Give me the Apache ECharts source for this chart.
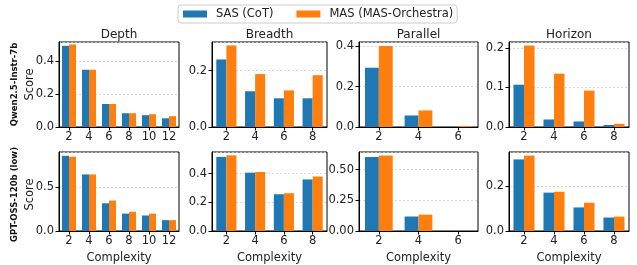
<!DOCTYPE html>
<html>
<head>
<meta charset="utf-8">
<script src="https://cdn.jsdelivr.net/npm/echarts@6/dist/echarts.min.js"></script>
<style>
  html, body { margin: 0; padding: 0; background: #fff; }
  #chart { width: 637px; height: 265px; }
</style>
</head>
<body>
<div id="chart"></div>
<script>
// categories (complexity levels) per task
const depthCats = ['2', '4', '6', '8', '10', '12'];
const breadthCats = ['2', '4', '6', '8'];
const parallelCats = ['2', '4', '6'];
const horizonCats = ['2', '4', '6', '8'];

const taskNames = ['Depth', 'Breadth', 'Parallel', 'Horizon'];
const modelNames = ['Qwen2.5-Instr-7b', 'GPT-OSS-120b (low)'];
const seriesNames = ['SAS (CoT)', 'MAS (MAS-Orchestra)'];

// Qwen2.5-Instr-7b
const qwenDepthSas = [0.495, 0.349, 0.14, 0.084, 0.072, 0.053];
const qwenDepthMas = [0.503, 0.349, 0.14, 0.084, 0.078, 0.066];
const qwenBreadthSas = [0.24, 0.127, 0.102, 0.102];
const qwenBreadthMas = [0.29, 0.188, 0.13, 0.184];
const qwenParallelSas = [0.293, 0.057, 0.001];
const qwenParallelMas = [0.40, 0.082, 0.005];
const qwenHorizonSas = [0.107, 0.019, 0.014, 0.005];
const qwenHorizonMas = [0.206, 0.135, 0.092, 0.008];

// GPT-OSS-120b (low)
const gptDepthSas = [0.852, 0.641, 0.314, 0.197, 0.176, 0.123];
const gptDepthMas = [0.842, 0.641, 0.345, 0.218, 0.197, 0.123];
const gptBreadthSas = [0.516, 0.406, 0.256, 0.359];
const gptBreadthMas = [0.527, 0.411, 0.263, 0.379];
const gptParallelSas = [0.602, 0.118, 0];
const gptParallelMas = [0.615, 0.133, 0];
const gptHorizonSas = [0.319, 0.171, 0.105, 0.06];
const gptHorizonMas = [0.336, 0.175, 0.126, 0.064];

// y axis ranges and tick steps, row by row
const yMax = [0.518, 0.302, 0.42, 0.215, 0.895, 0.55, 0.643, 0.352];
const yStep = [0.2, 0.2, 0.2, 0.1, 0.5, 0.2, 0.25, 0.2];
const yDecimals = [1, 1, 1, 1, 1, 1, 2, 1];

const BLUE = '#1f77b4';
const ORANGE = '#ff7f0e';
const FONT = 'DejaVu Sans';

const chart = echarts.init(document.getElementById('chart'), null, { renderer: 'canvas' });

// panel boxes: [left, width] per column, [top, height] per row
const cols = [[59, 120], [212, 115], [359, 119], [509, 120]];
const rows = [[42, 85], [152, 85]];

const panels = [
  { cats: depthCats, sas: qwenDepthSas, mas: qwenDepthMas },
  { cats: breadthCats, sas: qwenBreadthSas, mas: qwenBreadthMas },
  { cats: parallelCats, sas: qwenParallelSas, mas: qwenParallelMas },
  { cats: horizonCats, sas: qwenHorizonSas, mas: qwenHorizonMas },
  { cats: depthCats, sas: gptDepthSas, mas: gptDepthMas },
  { cats: breadthCats, sas: gptBreadthSas, mas: gptBreadthMas },
  { cats: parallelCats, sas: gptParallelSas, mas: gptParallelMas },
  { cats: horizonCats, sas: gptHorizonSas, mas: gptHorizonMas },
];

const grid = [];
const xAxis = [];
const yAxis = [];
const series = [];
const graphic = [];

panels.forEach((p, i) => {
  const r = Math.floor(i / 4);
  const c = i % 4;
  grid.push({
    left: cols[c][0],
    top: rows[r][0],
    width: cols[c][1],
    height: rows[r][1],
    show: true,
    borderColor: '#000',
    borderWidth: 1,
    containLabel: false,
  });
  xAxis.push({
    type: 'category',
    gridIndex: i,
    data: p.cats,
    axisLine: { show: true, lineStyle: { color: '#000', width: 1 } },
    axisTick: { show: true, alignWithLabel: true, length: 3.5, lineStyle: { color: '#000' } },
    axisLabel: { color: '#222', fontSize: 11.5, fontFamily: FONT, margin: 4, interval: 0 },
    splitLine: { show: false },
    name: r === 1 ? 'Complexity' : '',
    nameLocation: 'middle',
    nameGap: 21,
    nameTextStyle: { color: '#222', fontSize: 11.5, fontFamily: FONT },
  });
  yAxis.push({
    type: 'value',
    gridIndex: i,
    min: 0,
    max: yMax[i],
    interval: yStep[i],
    axisLine: { show: true, lineStyle: { color: '#000', width: 1 } },
    axisTick: { show: true, length: 3.5, lineStyle: { color: '#000' } },
    axisLabel: {
      color: '#222',
      fontSize: 11.5,
      fontFamily: FONT,
      margin: 5,
      showMaxLabel: false,
      formatter: (v) => v.toFixed(yDecimals[i]),
    },
    splitLine: { show: true, lineStyle: { color: '#d0d0d0', width: 0.8, type: [2, 2] } },
  });
  series.push({
    name: seriesNames[0],
    type: 'bar',
    xAxisIndex: i,
    yAxisIndex: i,
    data: p.sas,
    barWidth: '35%',
    barGap: '0%',
    itemStyle: { color: BLUE },
    animation: false,
  });
  series.push({
    name: seriesNames[1],
    type: 'bar',
    xAxisIndex: i,
    yAxisIndex: i,
    data: p.mas,
    barWidth: '35%',
    barGap: '0%',
    itemStyle: { color: ORANGE },
    animation: false,
  });
});

// column titles
taskNames.forEach((t, c) => {
  graphic.push({
    type: 'text',
    x: cols[c][0] + cols[c][1] / 2,
    y: 35,
    style: {
      text: t, fill: '#222', font: '12px "DejaVu Sans"',
      textAlign: 'center', textVerticalAlign: 'middle',
    },
  });
});

// row labels and y titles
modelNames.forEach((m, r) => {
  const cy = rows[r][0] + rows[r][1] / 2;
  graphic.push({
    type: 'text',
    x: 15,
    y: cy,
    rotation: Math.PI / 2,
    style: {
      text: m, fill: '#111', font: 'bold 8.5px "DejaVu Sans"',
      textAlign: 'center', textVerticalAlign: 'middle',
    },
  });
  graphic.push({
    type: 'text',
    x: 30,
    y: cy,
    rotation: Math.PI / 2,
    style: {
      text: 'Score', fill: '#222', font: '11.5px "DejaVu Sans"',
      textAlign: 'center', textVerticalAlign: 'middle',
    },
  });
});

const option = {
  backgroundColor: '#fff',
  animation: false,
  textStyle: { fontFamily: FONT },
  legend: {
    data: seriesNames,
    left: 178,
    top: 5,
    icon: 'rect',
    itemWidth: 24,
    itemHeight: 7,
    itemGap: 23,
    padding: [3, 4, 3, 5],
    borderColor: '#ccc',
    borderWidth: 1,
    borderRadius: 3,
    textStyle: { color: '#222', fontSize: 11.5, fontFamily: FONT, padding: [0, 0, 0, 4] },
  },
  grid,
  xAxis,
  yAxis,
  series,
  graphic,
};

chart.setOption(option);
</script>
</body>
</html>
